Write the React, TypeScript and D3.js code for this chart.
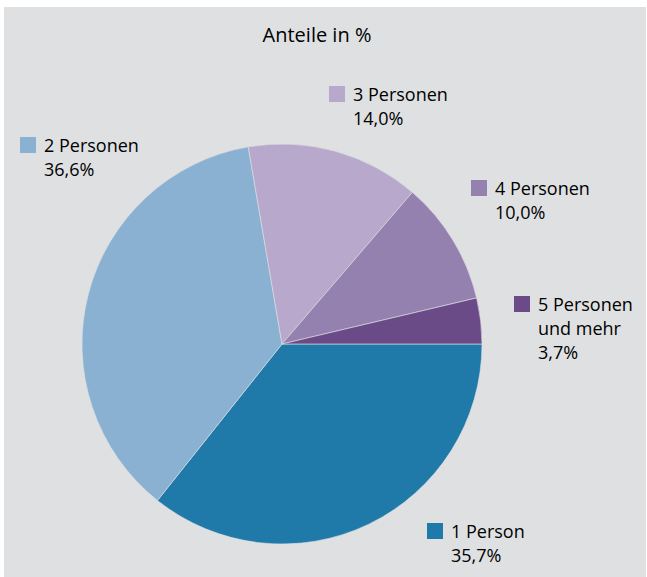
import React from "react";
import * as d3 from "d3";

const categories = ["1 Person", "2 Personen", "3 Personen", "4 Personen", "5 Personen und mehr"];
const labelLines = [["1 Person"], ["2 Personen"], ["3 Personen"], ["4 Personen"], ["5 Personen", "und mehr"]];
const values = [35.7, 36.6, 14.0, 10.0, 3.7];
const colors = ["#1f79a9", "#8ab1d2", "#b8a8cb", "#9581b0", "#6a4b87"];
const title = "Anteile in %";

// label anchor positions (square top-left)
const labelPos = [
  [427, 523],
  [20, 137],
  [329, 86],
  [471, 180],
  [514, 296],
];

const W = 647;
const H = 577;
const cx = 282;
const cy = 344;
const R = 200;
const FONT = "'Open Sans', 'Noto Sans', sans-serif";

const fmt = (v: number) => d3.format(".1f")(v).replace(".", ",") + "%";

export default function App() {
  const pie = d3
    .pie<number>()
    .sort(null)
    .startAngle(Math.PI / 2)
    .endAngle(Math.PI / 2 + 2 * Math.PI);
  const arcs = pie(values);
  const arc = d3.arc<d3.PieArcDatum<number>>().innerRadius(0).outerRadius(R);
  const sq = 16;
  const lh = 24;

  return (
    <svg width={W} height={H} style={{ position: "absolute", left: 0, top: 0 }}>
      <rect x={4} y={7} width={642} height={570} fill="#dfe0e2" />
      <text x={317} y={42} textAnchor="middle" fontFamily={FONT} fontSize={20} fill="#000">
        {title}
      </text>
      <g transform={`translate(${cx},${cy})`}>
        {arcs.map((a, i) => (
          <path key={categories[i]} d={arc(a) || ""} fill={colors[i]} stroke="#dfe0e2" strokeWidth={0.6} />
        ))}
      </g>
      {categories.map((c, i) => {
        const [x, y] = labelPos[i];
        const lines = [...labelLines[i], fmt(values[i])];
        return (
          <g key={c}>
            <rect x={x} y={y} width={sq} height={sq} fill={colors[i]} />
            {lines.map((t, j) => (
              <text
                key={j}
                x={x + sq + 8}
                y={y + 15 + j * lh}
                fontFamily={FONT}
                fontSize={18}
                fill="#000"
              >
                {t}
              </text>
            ))}
          </g>
        );
      })}
    </svg>
  );
}
